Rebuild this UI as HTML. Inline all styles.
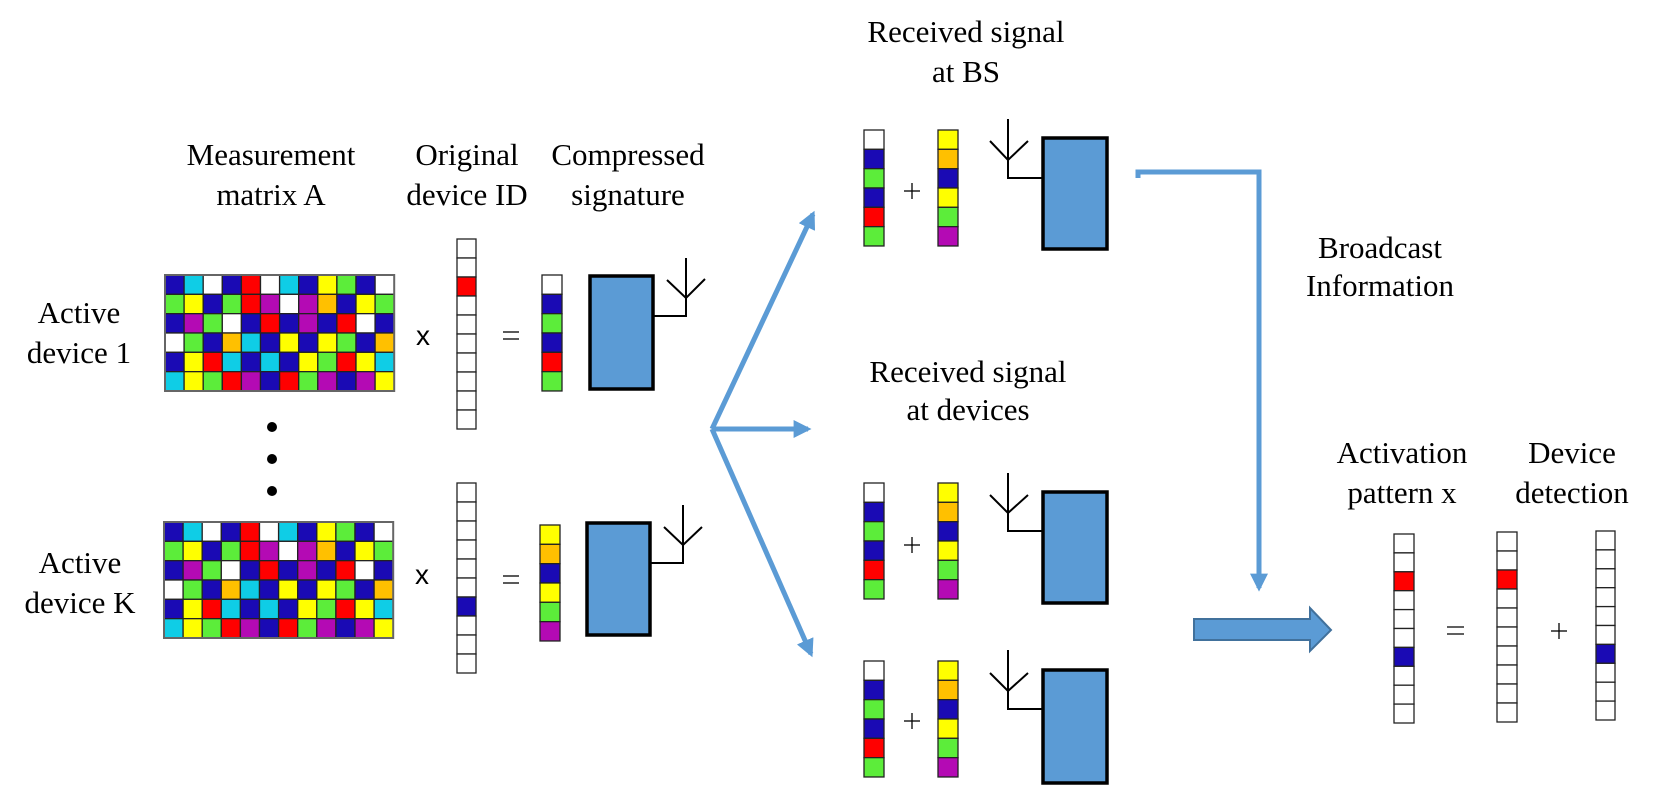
<!DOCTYPE html>
<html><head><meta charset="utf-8"><style>html,body{margin:0;padding:0;background:#fff}svg{display:block}text{font-family:"Liberation Serif",serif;font-size:31px;fill:#000}</style></head>
<body>
<svg width="1660" height="785" viewBox="0 0 1660 785" xmlns="http://www.w3.org/2000/svg">
<defs>
<marker id="ah" viewBox="0 0 10 10" refX="8" refY="5" markerWidth="3.6" markerHeight="3.6" orient="auto" markerUnits="strokeWidth"><path d="M0,0 L10,5 L0,10 z" fill="#5b9bd5"/></marker>
</defs>
<g id="texts" text-anchor="middle">
<text x="271" y="165">Measurement</text><text x="271" y="205">matrix A</text>
<text x="467" y="165">Original</text><text x="467" y="205">device ID</text>
<text x="628" y="165">Compressed</text><text x="628" y="205">signature</text>
<text x="79" y="323">Active</text><text x="79" y="363">device 1</text>
<text x="80" y="573">Active</text><text x="80" y="613">device K</text>
<text x="966" y="42">Received signal</text><text x="966" y="82">at BS</text>
<text x="968" y="382">Received signal</text><text x="968" y="420">at devices</text>
<text x="1380" y="258">Broadcast</text><text x="1380" y="296">Information</text>
<text x="1402" y="463">Activation</text><text x="1402" y="503">pattern x</text>
<text x="1572" y="463">Device</text><text x="1572" y="503">detection</text>
</g>
<text x="423" y="345" text-anchor="middle" style="font-family:'Liberation Sans',sans-serif;font-size:28px">x</text>
<text x="422" y="584" text-anchor="middle" style="font-family:'Liberation Sans',sans-serif;font-size:28px">x</text>
<g stroke="#000" stroke-width="1.3">
<line x1="503" y1="332" x2="519" y2="332"/><line x1="503" y1="339" x2="519" y2="339"/>
<line x1="503" y1="576" x2="519" y2="576"/><line x1="503" y1="583" x2="519" y2="583"/>
<line x1="1447" y1="627" x2="1464" y2="627"/><line x1="1447" y1="634" x2="1464" y2="634"/>
<line x1="904" y1="191" x2="920" y2="191"/><line x1="912" y1="183" x2="912" y2="199"/>
<line x1="904" y1="545" x2="920" y2="545"/><line x1="912" y1="537" x2="912" y2="553"/>
<line x1="904" y1="721" x2="920" y2="721"/><line x1="912" y1="713" x2="912" y2="729"/>
<line x1="1551" y1="631" x2="1567" y2="631"/><line x1="1559" y1="623" x2="1559" y2="639"/>
</g>
<g fill="#000"><circle cx="272" cy="427" r="5"/><circle cx="272" cy="459" r="5"/><circle cx="272" cy="491" r="5"/></g>
<g id="cells" stroke="#222" stroke-width="1.3"></g>
<g fill="#5b9bd5" stroke="#000" stroke-width="3.5">
<rect x="590" y="276" width="63" height="113"/>
<rect x="587" y="523" width="63" height="112"/>
<rect x="1043" y="138" width="64" height="111"/>
<rect x="1043" y="492" width="64" height="111"/>
<rect x="1043" y="670" width="64" height="113"/>
</g>
<g fill="none" stroke="#000" stroke-width="2">
<path d="M653,316 H686 V298 M686,258 V298 M667,280 L686,298 L705,279"/>
<path d="M650,563 H683 V545 M683,505 V545 M664,527 L683,545 L702,527"/>
<path d="M1043,178 H1008 V160 M1008,119 V160 M990,141 L1008,160 L1028,141"/>
<path d="M1043,531 H1008 V513 M1008,473 V513 M990,495 L1008,513 L1028,495"/>
<path d="M1043,709 H1008 V691 M1008,650 V691 M990,673 L1008,691 L1028,673"/>
</g>
<g fill="none" stroke="#5b9bd5" stroke-width="5">
<line x1="712" y1="429" x2="813" y2="214" marker-end="url(#ah)"/>
<line x1="712" y1="429" x2="808" y2="429" marker-end="url(#ah)"/>
<line x1="712" y1="429" x2="811" y2="654" marker-end="url(#ah)"/>
<path d="M1138,178 V172 H1259 V588" marker-end="url(#ah)"/>
</g>
<path d="M1194,619 H1310 V608 L1331,630 L1310,651 V640 H1194 Z" fill="#5b9bd5" stroke="#41719c" stroke-width="2"/>
</svg>
<script>
const C={B:'#1a0ab4',C:'#0fcde6',W:'#ffffff',R:'#ff0000',Y:'#ffff00',G:'#5ced3a',M:'#b40ab4',O:'#ffc000'};
const rows=["BCWBRWCBYGBW","GYBGRMWMOBYG","BMGWBRBMBRWB","WGBOCBYBYGBO","BYRCBCBYGRYC","CYGRMBRGMBMY"];
const g=document.getElementById('cells');let s='';
function r(x,y,w,h,c){s+=`<rect x="${x}" y="${y}" width="${w}" height="${h}" fill="${c}"/>`;}
[[165,275],[164,522]].forEach(([x0,y0])=>{rows.forEach((row,i)=>{[...row].forEach((ch,j)=>r(x0+j*19.1,y0+i*19.33,19.1,19.33,C[ch]));});
s+=`<rect x="${x0}" y="${y0}" width="229.2" height="116" fill="none" stroke="#666" stroke-width="2"/>`;});
function vec(x,y,w,h,cols){[...cols].forEach((ch,i)=>r(x,y+i*h,w,h,C[ch]));}
vec(457,239,19,19,"WWRWWWWWWW");
vec(457,483,19,19,"WWWWWWBWWW");
vec(542,275,20,19.33,"WBGBRG");
vec(540,525,20,19.33,"YOBYGM");
vec(864,130,20,19.33,"WBGBRG");vec(938,130,20,19.33,"YOBYGM");
vec(864,483,20,19.33,"WBGBRG");vec(938,483,20,19.33,"YOBYGM");
vec(864,661,20,19.33,"WBGBRG");vec(938,661,20,19.33,"YOBYGM");
vec(1394,534,20,18.9,"WWRWWWBWWW");
vec(1497,532,20,19,"WWRWWWWWWW");
vec(1596,531,19,18.9,"WWWWWWBWWW");
g.innerHTML=s;
</script>
</body></html>
